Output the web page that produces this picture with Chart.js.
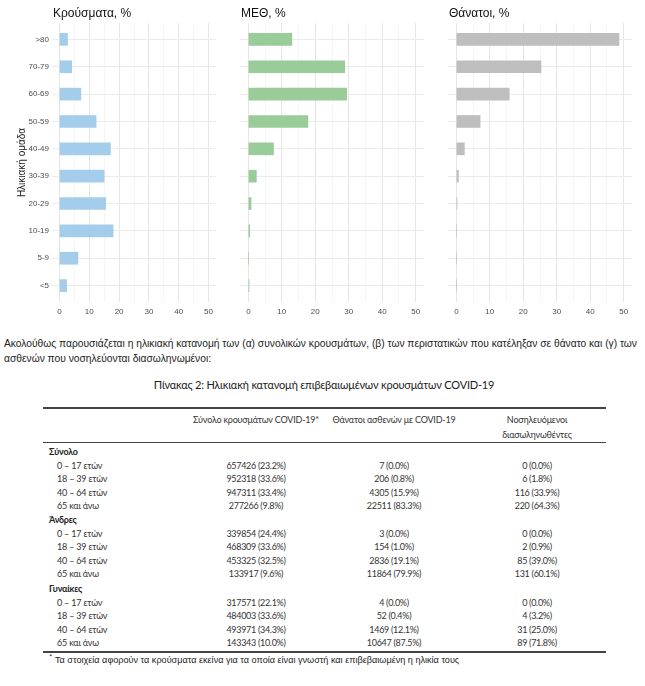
<!DOCTYPE html>
<html>
<head>
<meta charset="utf-8">
<script src="https://cdn.jsdelivr.net/npm/chart.js@4/dist/chart.umd.min.js"></script>
<style>
  body { margin: 0; background: #fff; }
  #page { position: relative; width: 645px; height: 686px; overflow: hidden; }
  canvas { position: absolute; top: 0; }
  .p { position: absolute; left: 4px; white-space: nowrap; font-family: 'Liberation Sans', Arial, sans-serif; font-size: 10.25px; color: #222; }
  .t { position: absolute; white-space: nowrap; font-family: Lato, sans-serif; font-size: 9px; letter-spacing: -0.2px; color: #333; line-height: 12px; }
  .c { width: 200px; text-align: center; }
  .v { letter-spacing: -0.3px; }
  .rule { position: absolute; left: 43px; width: 563px; background: #444; }
</style>
</head>
<body>
<div id="page">
  <canvas id="c1" width="222" height="320" style="left:0px"></canvas>
  <canvas id="c2" width="204" height="320" style="left:226px"></canvas>
  <canvas id="c3" width="204" height="320" style="left:434px"></canvas>

  <div class="p" style="top:338px">Ακολούθως παρουσιάζεται η ηλικιακή κατανομή των (α) συνολικών κρουσμάτων, (β) των περιστατικών που κατέληξαν σε θάνατο και (γ) των</div>
  <div class="p" style="top:353px">ασθενών που νοσηλεύονται διασωληνωμένοι:</div>
  <div class="t" style="left:0;width:648px;text-align:center;top:379px;font-size:11px;color:#222;">Πίνακας 2: Ηλικιακή κατανομή επιβεβαιωμένων κρουσμάτων COVID-19</div>
  <div class="rule" style="top:407px;height:1.5px"></div>
  <div class="rule" style="top:442px;height:1px"></div>
  <div class="rule" style="top:651px;height:1.5px"></div>
  <div id="table"></div>
</div>

<script>
// ηλικιακές ομάδες (από κάτω προς τα πάνω)
const ageGroups = ['<5', '5-9', '10-19', '20-29', '30-39', '40-49', '50-59', '60-69', '70-79', '>80'];
const casesPct  = [2.4, 6.2, 18.0, 15.5, 15.0, 17.1, 12.3, 7.2, 4.1, 2.7];
const icuPct    = [0.2, 0, 0.4, 0.8, 2.4, 7.5, 17.8, 29.4, 28.8, 13.0];
const deathsPct = [0, 0, 0, 0.2, 0.6, 2.4, 7.1, 15.8, 25.3, 48.6];
const xTicks = [0, 5, 10, 15, 20, 25, 30, 35, 40, 45, 50];

// πίνακας
const colHeaders = ['Σύνολο κρουσμάτων COVID-19*', 'Θάνατοι ασθενών με COVID-19', 'Νοσηλευόμενοι', 'διασωληνωθέντες'];
const groupNames = ['Σύνολο', 'Άνδρες', 'Γυναίκες'];
const rowLabels = ['0 – 17 ετών', '18 – 39 ετών', '40 – 64 ετών', '65 και άνω'];
const totalCases  = ['657426 (23.2%)', '952318 (33.6%)', '947311 (33.4%)', '277266 (9.8%)'];
const totalDeaths = ['7 (0.0%)', '206 (0.8%)', '4305 (15.9%)', '22511 (83.3%)'];
const totalIcu    = ['0 (0.0%)', '6 (1.8%)', '116 (33.9%)', '220 (64.3%)'];
const menCases  = ['339854 (24.4%)', '468309 (33.6%)', '453325 (32.5%)', '133917 (9.6%)'];
const menDeaths = ['3 (0.0%)', '154 (1.0%)', '2836 (19.1%)', '11864 (79.9%)'];
const menIcu    = ['0 (0.0%)', '2 (0.9%)', '85 (39.0%)', '131 (60.1%)'];
const womenCases  = ['317571 (22.1%)', '484003 (33.6%)', '493971 (34.3%)', '143343 (10.0%)'];
const womenDeaths = ['4 (0.0%)', '52 (0.4%)', '1469 (12.1%)', '10647 (87.5%)'];
const womenIcu    = ['0 (0.0%)', '4 (3.2%)', '31 (25.0%)', '89 (71.8%)'];
const footnote = 'Τα στοιχεία αφορούν τα κρούσματα εκείνα για τα οποία είναι γνωστή και επιβεβαιωμένη η ηλικία τους';

const panelTitle = {
  id: 'panelTitle',
  afterDraw(chart, args, opts) {
    const ctx = chart.ctx;
    ctx.save();
    ctx.font = '12px "Liberation Sans", Arial, sans-serif';
    ctx.fillStyle = '#111';
    ctx.textBaseline = 'middle';
    ctx.fillText(opts.text, chart.chartArea.left + 1, 14);
    ctx.restore();
  }
};

function makePanel(id, title, values, color, first) {
  new Chart(document.getElementById(id), {
    type: 'bar',
    data: {
      datasets: [{
        data: values.map((v, i) => ({ x: v, y: i })),
        backgroundColor: color,
        barThickness: 12
      }]
    },
    plugins: [panelTitle],
    options: {
      indexAxis: 'y',
      responsive: false,
      animation: false,
      layout: { padding: { left: first ? 0 : 14, right: 6, top: 23, bottom: 0 } },
      plugins: {
        legend: { display: false },
        tooltip: { enabled: false },
        panelTitle: { text: title }
      },
      scales: {
        x: {
          type: 'linear',
          min: -2.5,
          max: 52.5,
          afterBuildTicks: s => { s.ticks = xTicks.map(v => ({ value: v })); },
          afterFit: s => { s.height = 18; },
          border: { display: false },
          grid: {
            drawTicks: false,
            color: c => (c.tick && c.tick.value % 10 === 0) ? '#e6e6e6' : '#f0f0f0',
            lineWidth: c => (c.tick && c.tick.value % 10 === 0) ? 1 : 0.7
          },
          ticks: {
            autoSkip: false,
            maxRotation: 0,
            padding: 5,
            color: '#4d4d4d',
            font: { family: 'Liberation Sans', size: 8 },
            callback: v => (v % 10 === 0 ? v : '')
          }
        },
        y: {
          type: 'linear',
          offset: false,
          min: -0.6,
          max: 9.6,
          afterBuildTicks: s => { s.ticks = ageGroups.map((g, i) => ({ value: i })); },
          afterFit: s => { s.width = first ? 52 : 0; },
          border: { display: false },
          grid: { drawTicks: false, offset: false, color: '#ebebeb' },
          ticks: {
            display: first,
            padding: 3,
            color: '#4d4d4d',
            font: { family: 'Liberation Sans', size: 8 },
            callback: v => ageGroups[v]
          },
          title: {
            display: first,
            text: 'Ηλικιακή ομάδα',
            color: '#222',
            padding: { top: 16, bottom: 0 },
            font: { family: 'Liberation Sans', size: 10 }
          }
        }
      }
    }
  });
}

makePanel('c1', 'Κρούσματα, %', casesPct, '#a3cdea', true);
makePanel('c2', 'ΜΕΘ, %', icuPct, '#99cc99', false);
makePanel('c3', 'Θάνατοι, %', deathsPct, '#bebebe', false);

// κατασκευή πίνακα
const table = document.getElementById('table');
const colCenters = [256, 394, 537];
function addText(text, left, y, cls, extra) {
  const d = document.createElement('div');
  d.className = cls;
  d.textContent = text;
  d.style.left = left + 'px';
  d.style.top = (y - 6) + 'px';
  if (extra) d.style.cssText += extra;
  table.appendChild(d);
}
addText(colHeaders[0], colCenters[0] - 100, 420, 't c');
addText(colHeaders[1], colCenters[1] - 100, 420, 't c');
addText(colHeaders[2], colCenters[2] - 100, 420, 't c');
addText(colHeaders[3], colCenters[2] - 100, 435, 't c');

const groupTops = [452, 520, 589];
const groupCols = [
  [totalCases, totalDeaths, totalIcu],
  [menCases, menDeaths, menIcu],
  [womenCases, womenDeaths, womenIcu]
];
groupNames.forEach((g, gi) => {
  addText(g, 49, groupTops[gi], 't', 'font-weight:bold;color:#222;');
  rowLabels.forEach((r, ri) => {
    const y = groupTops[gi] + 13.5 * (ri + 1);
    addText(r, 57, y, 't');
    groupCols[gi].forEach((col, ci) => addText(col[ri], colCenters[ci] - 100, y, 't c v'));
  });
});
addText('*', 49, 657, 't', 'font-size:8px;');
addText(footnote, 55, 660, 't', 'font-family:"Liberation Sans",Arial,sans-serif;font-size:9.1px;letter-spacing:0;color:#222;');
</script>
</body>
</html>
